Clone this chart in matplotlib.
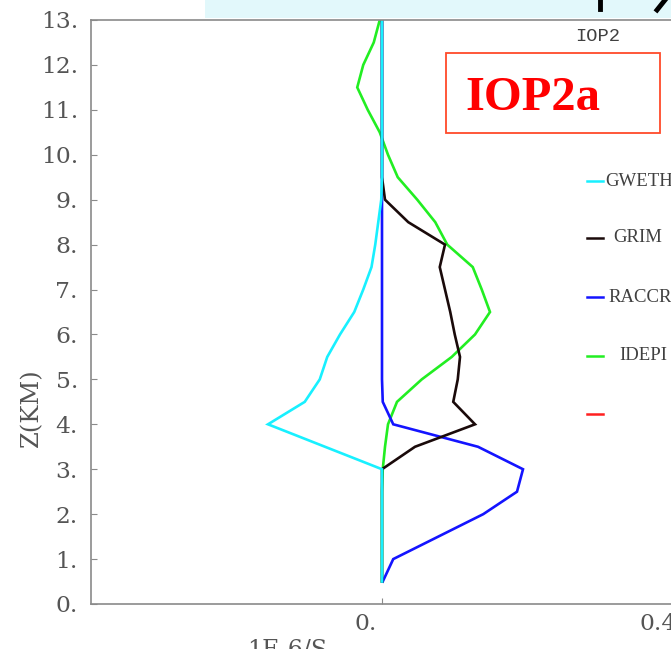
import matplotlib
matplotlib.use("Agg")
import matplotlib.pyplot as plt
from matplotlib.patches import Rectangle
from matplotlib.lines import Line2D
from matplotlib.transforms import ScaledTranslation

# Heights (km) and tendency profiles (1E-6/S)
heights = [0.5, 1.0, 1.5, 2.0, 2.5, 3.0, 3.5, 4.0, 4.5, 5.0, 5.5, 6.0, 6.5,
           7.0, 7.5, 8.0, 8.5, 9.0, 9.5, 10.0, 10.5, 11.0, 11.5, 12.0, 12.5, 13.0]
gweth = [0, 0, 0, 0, 0, 0, -0.076, -0.152, -0.103, -0.083, -0.073, -0.056, -0.037,
         -0.025, -0.014, -0.009, -0.005, -0.001, 0, 0, 0, 0, 0, 0, 0, 0]
grim = [0, 0, 0, 0, 0, 0, 0.044, 0.124, 0.095, 0.101, 0.104, 0.097, 0.091,
        0.084, 0.077, 0.084, 0.035, 0.004, 0, 0, 0, 0, 0, 0, 0, 0]
raccr = [0.001, 0.015, 0.075, 0.135, 0.180, 0.188, 0.128, 0.015, 0.001, 0, 0, 0, 0,
         0, 0, 0, 0, 0, 0, 0, 0, 0, 0, 0, 0, 0]
idepi = [0, 0, 0, 0, 0, 0.001, 0.004, 0.008, 0.020, 0.053, 0.093, 0.124, 0.144,
         0.133, 0.121, 0.087, 0.071, 0.047, 0.021, 0.008, -0.003, -0.019, -0.033,
         -0.025, -0.011, -0.003]

series_names = ["GWETH", "GRIM", "RACCR", "IDEPI", ""]
series_colors = ["#18f0ff", "#1a0a0a", "#1414ff", "#22ee22", "#ff2020"]

y_ticks = list(range(0, 14))
y_tick_labels = [f"{v}." for v in y_ticks]
x_ticks = [0.0, 0.4]
x_tick_labels = ["0.", "0.4"]

W, H = 671, 649
fig = plt.figure(figsize=(W / 100, H / 100), dpi=100)


def fx(x):
    return x / W


def fy(y):
    return 1 - y / H


# axes frame extends past the right edge of the figure
ax = fig.add_axes([fx(91), 45 / H, 891 / W, 584 / H])
ax.set_xlim(-0.388, 0.8)
ax.set_ylim(0, 13)

axis_grey = "#8a8a8a"
label_grey = "#555555"
for s in ax.spines.values():
    s.set_color(axis_grey)
    s.set_linewidth(1.2)

ax.set_yticks(y_ticks)
ax.set_yticklabels(y_tick_labels)
ax.set_xticks(x_ticks)
ax.set_xticklabels(x_tick_labels)
ax.tick_params(axis="both", direction="in", length=4.5, width=0.8, color=axis_grey,
               labelcolor=label_grey, labelsize=16.8)
ax.tick_params(axis="y", pad=9.4)
ax.tick_params(axis="x", pad=6.5)
for lab in ax.get_yticklabels() + ax.get_xticklabels():
    lab.set_fontfamily("DejaVu Serif")
for lab in ax.get_xticklabels():
    lab.set_horizontalalignment("right")
    lab.set_transform(lab.get_transform() + ScaledTranslation(-5 / 100, 0, fig.dpi_scale_trans))

# profiles, drawn so the cyan curve ends up on top
profiles = [idepi, raccr, grim, gweth]
profile_colors = [series_colors[3], series_colors[2], series_colors[1], series_colors[0]]
for vals, col in zip(profiles, profile_colors):
    ax.plot(vals, heights, color=col, lw=1.9, solid_joinstyle="miter")

# axis titles
fig.text(fx(32), fy(408), "Z(KM)", rotation=90, ha="center", va="center",
         fontsize=17.5, family="DejaVu Serif", color=label_grey)
fig.text(fx(287), fy(639), "1E-6/S", ha="center", va="top",
         fontsize=17, family="DejaVu Serif", color=label_grey)

fig.text(fx(598), fy(41), "IOP2", ha="center", va="baseline",
         fontsize=13.5, family="Liberation Mono", color="#404040")

# IOP2a label box
fig.patches.append(Rectangle((fx(446), fy(133)), 214 / W, 80 / H, transform=fig.transFigure,
                             facecolor="none", edgecolor="#ff4a2a", lw=1.3))
fig.text(fx(533), fy(110), "IOP2a", ha="center", va="baseline", fontsize=35,
         family="Liberation Serif", weight="bold", color="#ff0000")

# legend entries
legend_rows = [181, 238, 297, 356, 414]
label_x = [605, 613, 608, 619, 0]
for name, col, yy, lx in zip(series_names, series_colors, legend_rows, label_x):
    fig.add_artist(Line2D([fx(587), fx(603)], [fy(yy), fy(yy)], transform=fig.transFigure,
                          color=col, lw=1.8))
    if name:
        fig.text(fx(lx), fy(yy), name, ha="left", va="center", fontsize=13.5,
                 family="Liberation Serif", color="#404040")

# pale banner along the top edge
fig.patches.append(Rectangle((fx(205), fy(18)), 466 / W, 18 / H, transform=fig.transFigure,
                             facecolor="#e2f8fb", edgecolor="none"))
fig.add_artist(Line2D([fx(600), fx(600)], [fy(0), fy(9)], transform=fig.transFigure,
                      color="black", lw=3.5))
fig.add_artist(Line2D([fx(665), fx(657)], [fy(0), fy(10)], transform=fig.transFigure,
                      color="black", lw=3.5))

fig.savefig("out.png", dpi=100)
